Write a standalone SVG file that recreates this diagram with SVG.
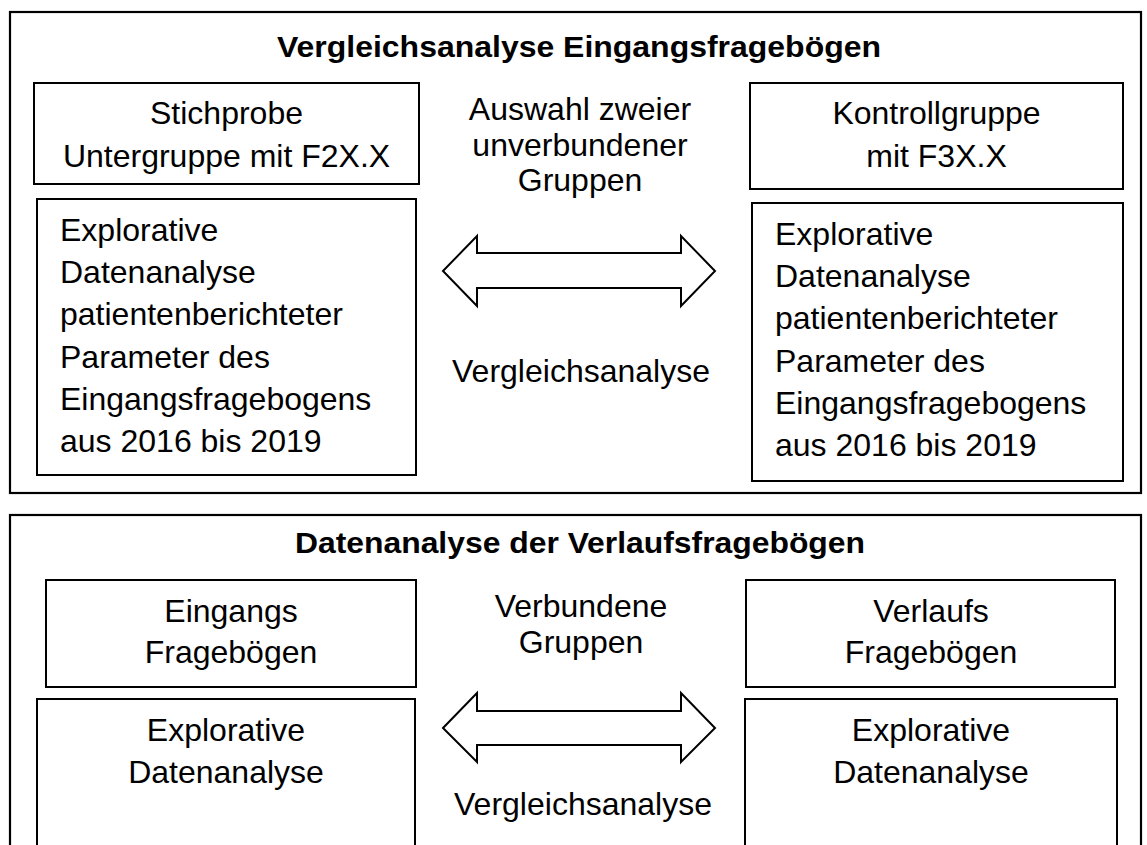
<svg xmlns="http://www.w3.org/2000/svg" width="1147" height="845" viewBox="0 0 1147 845">
<style>
.frame{fill:none;stroke:#000;stroke-width:2.2}
.box{fill:#fff;stroke:#000;stroke-width:2}
.arrow{fill:#fff;stroke:#000;stroke-width:2;stroke-linejoin:miter}
text{font-family:"Liberation Sans",Arial,sans-serif;font-size:32px;fill:#000}
.title{font-weight:bold;font-size:29px}
.c{text-anchor:middle}
</style>
<rect width="1147" height="845" fill="#fff"/>
<g id="section-top">
<rect class="frame" x="10" y="12" width="1131" height="481"/>
<text class="title c" x="579" y="57" textLength="604" lengthAdjust="spacingAndGlyphs">Vergleichsanalyse Eingangsfragebögen</text>
</g>
<g id="stichprobe">
<rect class="box" x="34" y="83" width="385" height="101"/>
<text class="c" x="226.5" y="124">Stichprobe</text>
<text class="c" x="226.5" y="166.5">Untergruppe mit F2X.X</text>
</g>
<g id="kontrollgruppe">
<rect class="box" x="750" y="83" width="373" height="106"/>
<text class="c" x="936.5" y="124">Kontrollgruppe</text>
<text class="c" x="936.5" y="166.5">mit F3X.X</text>
</g>
<g id="label-auswahl">
<text class="c" x="580" y="120">Auswahl zweier</text>
<text class="c" x="580" y="156">unverbundener</text>
<text class="c" x="580" y="191">Gruppen</text>
</g>
<g id="explorativ-links-oben">
<rect class="box" x="37" y="199" width="379" height="276"/>
<text x="60" y="241">Explorative</text>
<text x="60" y="283">Datenanalyse</text>
<text x="60" y="325">patientenberichteter</text>
<text x="60" y="367.5">Parameter des</text>
<text x="60" y="409.5">Eingangsfragebogens</text>
<text x="60" y="452">aus 2016 bis 2019</text>
</g>
<g id="explorativ-rechts-oben">
<rect class="box" x="752" y="203" width="371" height="278"/>
<text x="775" y="245">Explorative</text>
<text x="775" y="287">Datenanalyse</text>
<text x="775" y="329">patientenberichteter</text>
<text x="775" y="371.5">Parameter des</text>
<text x="775" y="413.5">Eingangsfragebogens</text>
<text x="775" y="456">aus 2016 bis 2019</text>
</g>
<g id="label-vergleich-oben">
<text class="c" x="581" y="382">Vergleichsanalyse</text>
</g>
<g id="section-bottom">
<rect class="frame" x="10" y="515" width="1131" height="340"/>
<text class="title c" x="580" y="553" textLength="570" lengthAdjust="spacingAndGlyphs">Datenanalyse der Verlaufsfragebögen</text>
</g>
<g id="eingangs">
<rect class="box" x="46" y="580" width="370" height="107"/>
<text class="c" x="231" y="622">Eingangs</text>
<text class="c" x="231" y="663">Fragebögen</text>
</g>
<g id="verlaufs">
<rect class="box" x="746" y="580" width="369" height="107"/>
<text class="c" x="931" y="622">Verlaufs</text>
<text class="c" x="931" y="663">Fragebögen</text>
</g>
<g id="label-verbunden">
<text class="c" x="581" y="617">Verbundene</text>
<text class="c" x="581" y="653">Gruppen</text>
</g>
<g id="explorativ-links-unten">
<rect class="box" x="37" y="699" width="378" height="160"/>
<text class="c" x="226" y="741">Explorative</text>
<text class="c" x="226" y="783">Datenanalyse</text>
</g>
<g id="explorativ-rechts-unten">
<rect class="box" x="745" y="699" width="372" height="160"/>
<text class="c" x="931" y="741">Explorative</text>
<text class="c" x="931" y="783">Datenanalyse</text>
</g>
<g id="label-vergleich-unten">
<text class="c" x="583" y="815">Vergleichsanalyse</text>
</g>
<g id="connectors">
<path class="arrow" d="M443,271 L477,236 L477,253 L681,253 L681,236 L715,271 L681,306 L681,288 L477,288 L477,306 Z"/>
<path class="arrow" d="M443,728 L477,693 L477,711 L681,711 L681,693 L715,728 L681,762 L681,745 L477,745 L477,762 Z"/>
</g>
</svg>
